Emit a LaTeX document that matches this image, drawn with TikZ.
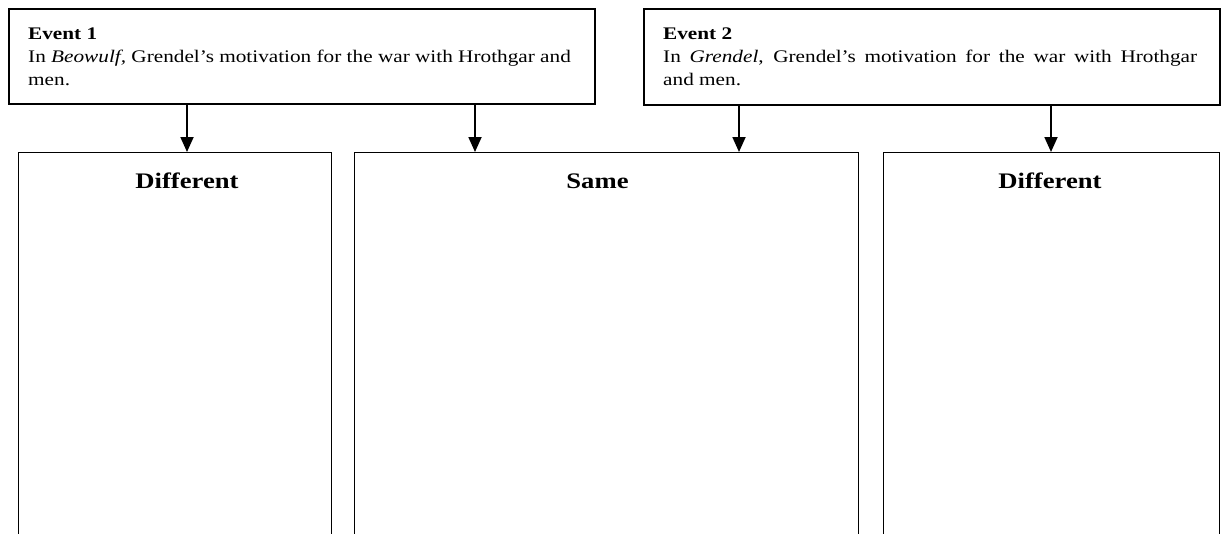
\documentclass[tikz,border=0pt]{standalone}
\usepackage{fontspec}
\setmainfont[FakeStretch=1.2]{Liberation Serif}
\usetikzlibrary{arrows.meta}
\begin{document}
\begin{tikzpicture}[x=1pt,y=-1pt,
  evbox/.style={draw, line width=1.6pt, rectangle, inner sep=0pt, anchor=north west},
  colbox/.style={draw, line width=1.3pt, rectangle, inner sep=0pt, anchor=north west},
  evtext/.style={anchor=north west, inner sep=0pt, align=left, font=\fontsize{17.7}{23}\selectfont},
  head/.style={anchor=base, inner sep=0pt, font=\fontsize{22.2}{26}\selectfont\bfseries},
  arr/.style={line width=1.8pt, -{Triangle[width=13pt,length=15pt]}}]
\useasboundingbox (0,0) rectangle (1221,533);
\clip (0,0) rectangle (1221,533);
% event boxes
\node[evbox, minimum width=586pt, minimum height=95pt] (e1) at (8,8) {};
\node[evbox, minimum width=576pt, minimum height=96pt] (e2) at (643,8) {};
\node[evtext] (t1) at (28,27.4) {\textbf{Event 1}\\In \textit{Beowulf,} Grendel’s motivation for the war with Hrothgar and\\men.};
\node[evtext] (t2) at (663,27.4) {\textbf{Event 2}\\\makebox[534pt][s]{In \textit{Grendel}, Grendel’s motivation for the war with Hrothgar}\\and men.};
% column boxes
\node[colbox, minimum width=313pt, minimum height=400pt] (d1) at (18,152) {};
\node[colbox, minimum width=504pt, minimum height=400pt] (s) at (354,152) {};
\node[colbox, minimum width=336pt, minimum height=400pt] (d2) at (883,152) {};
\node[head] (h1) at (187,188) {Different};
\node[head] (h2) at (597.5,188) {Same};
\node[head] (h3) at (1050,188) {Different};
% arrows
\coordinate (a1) at (187,0);
\coordinate (a2) at (475,0);
\coordinate (a3) at (739,0);
\coordinate (a4) at (1051,0);
\draw[arr] (a1 |- e1.south) -- (a1 |- d1.north);
\draw[arr] (a2 |- e1.south) -- (a2 |- s.north);
\draw[arr] (a3 |- e2.south) -- (a3 |- s.north);
\draw[arr] (a4 |- e2.south) -- (a4 |- d2.north);
\end{tikzpicture}
\end{document}
